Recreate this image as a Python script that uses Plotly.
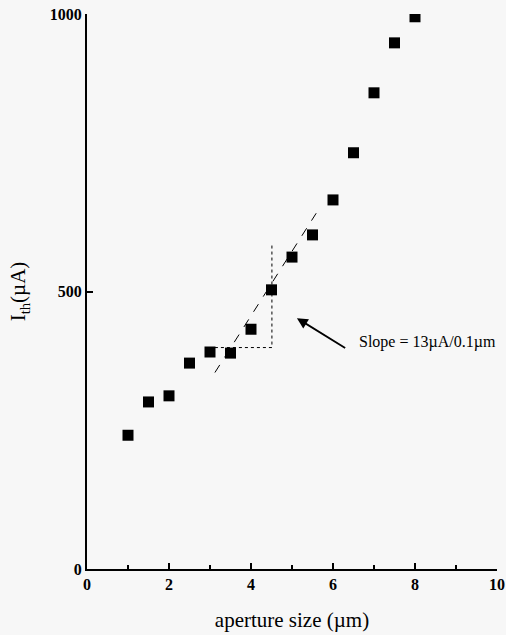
import plotly.graph_objects as go

# Data
aperture = [1, 1.5, 2, 2.5, 3, 3.5, 4, 4.5, 5, 5.5, 6, 6.5, 7, 7.5, 8]
ith = [241, 301, 312, 371, 391, 389, 432, 503, 562, 602, 665, 750, 858, 948, 995]

fit_x = [3.12, 5.59]
fit_y = [354, 641]

tri_x = [3.12, 4.51, 4.51]
tri_y = [399, 399, 588]

x_ticks = [0, 2, 4, 6, 8, 10]
y_ticks = [0, 500, 1000]

FONT = "Liberation Serif, Times New Roman, serif"
BG = "#f7f7f7"

fig = go.Figure()

fig.add_trace(go.Scatter(
    x=fit_x, y=fit_y, mode="lines",
    line=dict(color="black", width=1, dash="dash"), showlegend=False, hoverinfo="skip"))

fig.add_trace(go.Scatter(
    x=tri_x, y=tri_y, mode="lines",
    line=dict(color="black", width=1, dash="dot"), showlegend=False, hoverinfo="skip"))

fig.add_trace(go.Scatter(
    x=aperture, y=ith, mode="markers",
    marker=dict(symbol="square", size=11, color="black", line=dict(width=0)),
    showlegend=False))

fig.add_annotation(
    x=5.12, y=452, ax=6.37, ay=395, xref="x", yref="y", axref="x", ayref="y",
    showarrow=True, arrowhead=2, arrowsize=1.2, arrowwidth=1.8, arrowcolor="black", text=" ")

fig.add_annotation(
    x=6.59, y=409, xref="x", yref="y", text="Slope = 13µA/0.1µm",
    showarrow=False, xanchor="left", yanchor="middle",
    font=dict(family=FONT, size=16, color="black"))

fig.update_xaxes(
    range=[0, 10], tickvals=x_ticks, ticktext=["<b>%d</b>" % v for v in x_ticks],
    ticks="inside", ticklen=6, tickwidth=1.5, tickcolor="black",
    minor=dict(dtick=1, ticks="inside", ticklen=4, tickwidth=1.5, tickcolor="black"),
    showline=True, linecolor="black", linewidth=2, showgrid=False, zeroline=False,
    automargin=False,
    tickfont=dict(family=FONT, size=16, color="black"),
    title=dict(text="aperture size (µm)", font=dict(family=FONT, size=21, color="black"), standoff=20))

fig.update_yaxes(
    range=[0, 1000], tickvals=y_ticks, ticktext=["<b>%d</b>" % v for v in y_ticks],
    ticks="inside", ticklen=6, tickwidth=1.5, tickcolor="black",
    showline=True, linecolor="black", linewidth=2, showgrid=False, zeroline=False,
    automargin=False,
    tickfont=dict(family=FONT, size=16, color="black"),
    title=dict(text="I<sub>th</sub>(µA)", font=dict(family=FONT, size=21, color="black"), standoff=18))

fig.update_layout(
    width=506, height=635,
    margin=dict(l=87, r=9, t=14, b=66),
    paper_bgcolor=BG, plot_bgcolor=BG,
)

fig.write_html("out.html")
